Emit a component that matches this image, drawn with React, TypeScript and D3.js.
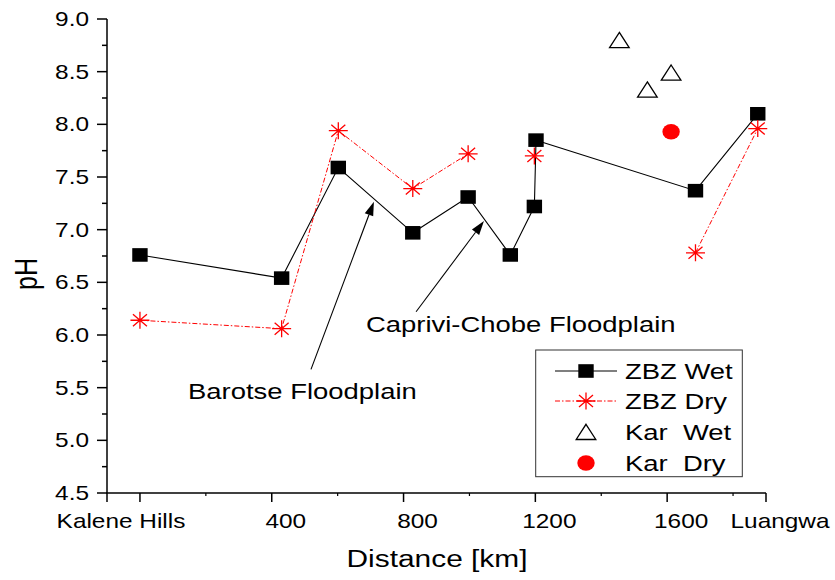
import React from "react";
import * as d3 from "d3";

const distances = [0, 430, 602, 828, 996, 1124, 1197, 1202, 1686, 1875];
const zbzWet = [6.76, 6.54, 7.59, 6.97, 7.31, 6.76, 7.22, 7.85, 7.37, 8.1];
const zbzDry: (number | null)[] = [6.14, 6.06, 7.94, 7.39, 7.72, null, 7.7, null, 6.78, 7.96];
const karWetDist = [1455, 1540, 1612];
const karWet = [8.8, 8.33, 8.49];
const karDryDist = [1612];
const karDry = [7.93];

const xTickLabels: [number, string][] = [
  [-100, "Kalene Hills"],
  [400, "400"],
  [800, "800"],
  [1200, "1200"],
  [1600, "1600"],
  [1900, "Luangwa"],
];
const xMajor = [-100, 0, 400, 800, 1200, 1600, 1900];
const xMinor = [200, 600, 1000, 1400, 1800];
const yMajor = [4.5, 5, 5.5, 6, 6.5, 7, 7.5, 8, 8.5, 9];
const yMinor = [4.75, 5.25, 5.75, 6.25, 6.75, 7.25, 7.75, 8.25, 8.75];

const annotations = [
  { text: "Barotse Floodplain", tx: 146, ty: 5.392, x1: 519, y1: 5.674, x2: 710, y2: 7.266 },
  { text: "Caprivi-Chobe Floodplain", tx: 686, ty: 6.031, x1: 838, y1: 6.221, x2: 1044, y2: 7.082 },
];

const legendItems = ["ZBZ Wet", "ZBZ Dry", "Kar  Wet", "Kar  Dry"];

const FONT = "'Liberation Sans', Arial, Helvetica, sans-serif";
const SX = 1.22;

const x = d3.scaleLinear().domain([-100, 1900]).range([107, 766]);
const y = d3.scaleLinear().domain([4.5, 9]).range([493, 19]);

function T({ x, y, size, anchor = "start", children, rotate = false }: any) {
  const tr = rotate
    ? `translate(${x},${y}) rotate(-90) scale(1,${SX})`
    : `translate(${x},${y}) scale(${SX},1)`;
  return (
    <text
      transform={tr}
      fontSize={size}
      fontFamily={FONT}
      textAnchor={anchor}
      fill="#000"
      style={{ whiteSpace: "pre" }}
    >
      {children}
    </text>
  );
}

const Square = ({ cx, cy }: any) => (
  <rect x={cx - 7.7} y={cy - 6.8} width={15.4} height={13.6} fill="#000" />
);
const Star = ({ cx, cy }: any) => (
  <path
    d={`M${cx - 9.5},${cy}H${cx + 9.5}M${cx},${cy - 8.5}V${cy + 8.5}M${cx - 7},${cy - 6}L${cx + 7},${cy + 6}M${cx - 7},${cy + 6}L${cx + 7},${cy - 6}`}
    stroke="#ff0000"
    strokeWidth={1.3}
    fill="none"
  />
);
const Tri = ({ cx, cy }: any) => (
  <path
    d={`M${cx},${cy - 7.7}L${cx + 9.8},${cy + 7.5}L${cx - 9.8},${cy + 7.5}Z`}
    stroke="#000"
    strokeWidth={1.3}
    fill="#fff"
  />
);
const Dot = ({ cx, cy }: any) => <ellipse cx={cx} cy={cy} rx={8.7} ry={7.7} fill="#ff0000" />;

function Arrow({ x1, y1, x2, y2 }: any) {
  const dx = x2 - x1;
  const dy = y2 - y1;
  const len = Math.hypot(dx, dy);
  const ux = dx / len;
  const uy = dy / len;
  const L = 14;
  const W = 4.5;
  const bx = x2 - ux * L;
  const by = y2 - uy * L;
  return (
    <g>
      <line x1={x1} y1={y1} x2={bx} y2={by} stroke="#000" strokeWidth={1.1} />
      <path
        d={`M${x2},${y2}L${bx - uy * W},${by + ux * W}L${bx + uy * W},${by - ux * W}Z`}
        fill="#000"
      />
    </g>
  );
}

export default function App() {
  const wetLine = d3
    .line<number>()
    .x((_, i) => x(distances[i]))
    .y((d) => y(d));
  const dryLine = d3
    .line<number | null>()
    .defined((d) => d !== null)
    .x((_, i) => x(distances[i]))
    .y((d) => y(d as number));

  const lx1 = 555;
  const lx2 = 617;
  const lmx = 586;
  const rows = [371, 401, 432, 463];

  return (
    <svg
      width={835}
      height={580}
      style={{ position: "absolute", left: 0, top: 0, background: "#fff" }}
    >
      <rect width={835} height={580} fill="#fff" />
      {/* axes */}
      <line x1={107} y1={y(9)} x2={107} y2={493} stroke="#000" strokeWidth={1.5} />
      <line x1={106.3} y1={493} x2={x(1900)} y2={493} stroke="#000" strokeWidth={1.5} />
      {yMajor.map((v) => (
        <line key={"ym" + v} x1={97} x2={107} y1={y(v)} y2={y(v)} stroke="#000" strokeWidth={1.5} />
      ))}
      {yMinor.map((v) => (
        <line key={"yn" + v} x1={102} x2={107} y1={y(v)} y2={y(v)} stroke="#000" strokeWidth={1.5} />
      ))}
      {xMajor.map((v) => (
        <line key={"xm" + v} x1={x(v)} x2={x(v)} y1={493} y2={502} stroke="#000" strokeWidth={1.5} />
      ))}
      {xMinor.map((v) => (
        <line key={"xn" + v} x1={x(v)} x2={x(v)} y1={493} y2={496} stroke="#000" strokeWidth={1.2} />
      ))}
      {yMajor.map((v) => (
        <T key={"yl" + v} x={89} y={y(v) + 7} size={20} anchor="end">
          {v.toFixed(1)}
        </T>
      ))}
      {xTickLabels.map(([v, s]) => (
        <T key={"xl" + v} x={x(v) + 14} y={528} size={20} anchor="middle">
          {s}
        </T>
      ))}
      <T x={437} y={567} size={24.5} anchor="middle">
        Distance [km]
      </T>
      <T x={37} y={274} size={25} anchor="middle" rotate>
        pH
      </T>

      {/* series */}
      <path d={wetLine(zbzWet) || ""} fill="none" stroke="#000" strokeWidth={1.1} />
      <path
        d={dryLine(zbzDry) || ""}
        fill="none"
        stroke="#ff0000"
        strokeWidth={1}
        strokeDasharray="5 2 1.5 2"
      />
      {zbzWet.map((v, i) => (
        <Square key={"w" + i} cx={x(distances[i])} cy={y(v)} />
      ))}
      {zbzDry.map((v, i) =>
        v === null ? null : <Star key={"d" + i} cx={x(distances[i])} cy={y(v)} />
      )}
      {karWet.map((v, i) => (
        <Tri key={"kw" + i} cx={x(karWetDist[i])} cy={y(v)} />
      ))}
      {karDry.map((v, i) => (
        <Dot key={"kd" + i} cx={x(karDryDist[i])} cy={y(v)} />
      ))}

      {/* annotations */}
      {annotations.map((a) => (
        <g key={a.text}>
          <Arrow x1={x(a.x1)} y1={y(a.y1)} x2={x(a.x2)} y2={y(a.y2)} />
          <T x={x(a.tx)} y={y(a.ty)} size={22.5}>
            {a.text}
          </T>
        </g>
      ))}

      {/* legend */}
      <rect x={535.7} y={350} width={206.6} height={126.7} fill="#fff" stroke="#333" strokeWidth={1} />
      <line x1={lx1} x2={lx2} y1={rows[0]} y2={rows[0]} stroke="#000" strokeWidth={1.1} />
      <Square cx={lmx} cy={rows[0]} />
      <line
        x1={lx1}
        x2={lx2}
        y1={rows[1]}
        y2={rows[1]}
        stroke="#ff0000"
        strokeWidth={1}
        strokeDasharray="5 2 1.5 2"
      />
      <Star cx={lmx} cy={rows[1]} />
      <Tri cx={lmx} cy={rows[2]} />
      <Dot cx={lmx} cy={rows[3]} />
      {legendItems.map((s, i) => (
        <T key={s} x={625} y={rows[i] + 8} size={22.5}>
          {s}
        </T>
      ))}
    </svg>
  );
}
